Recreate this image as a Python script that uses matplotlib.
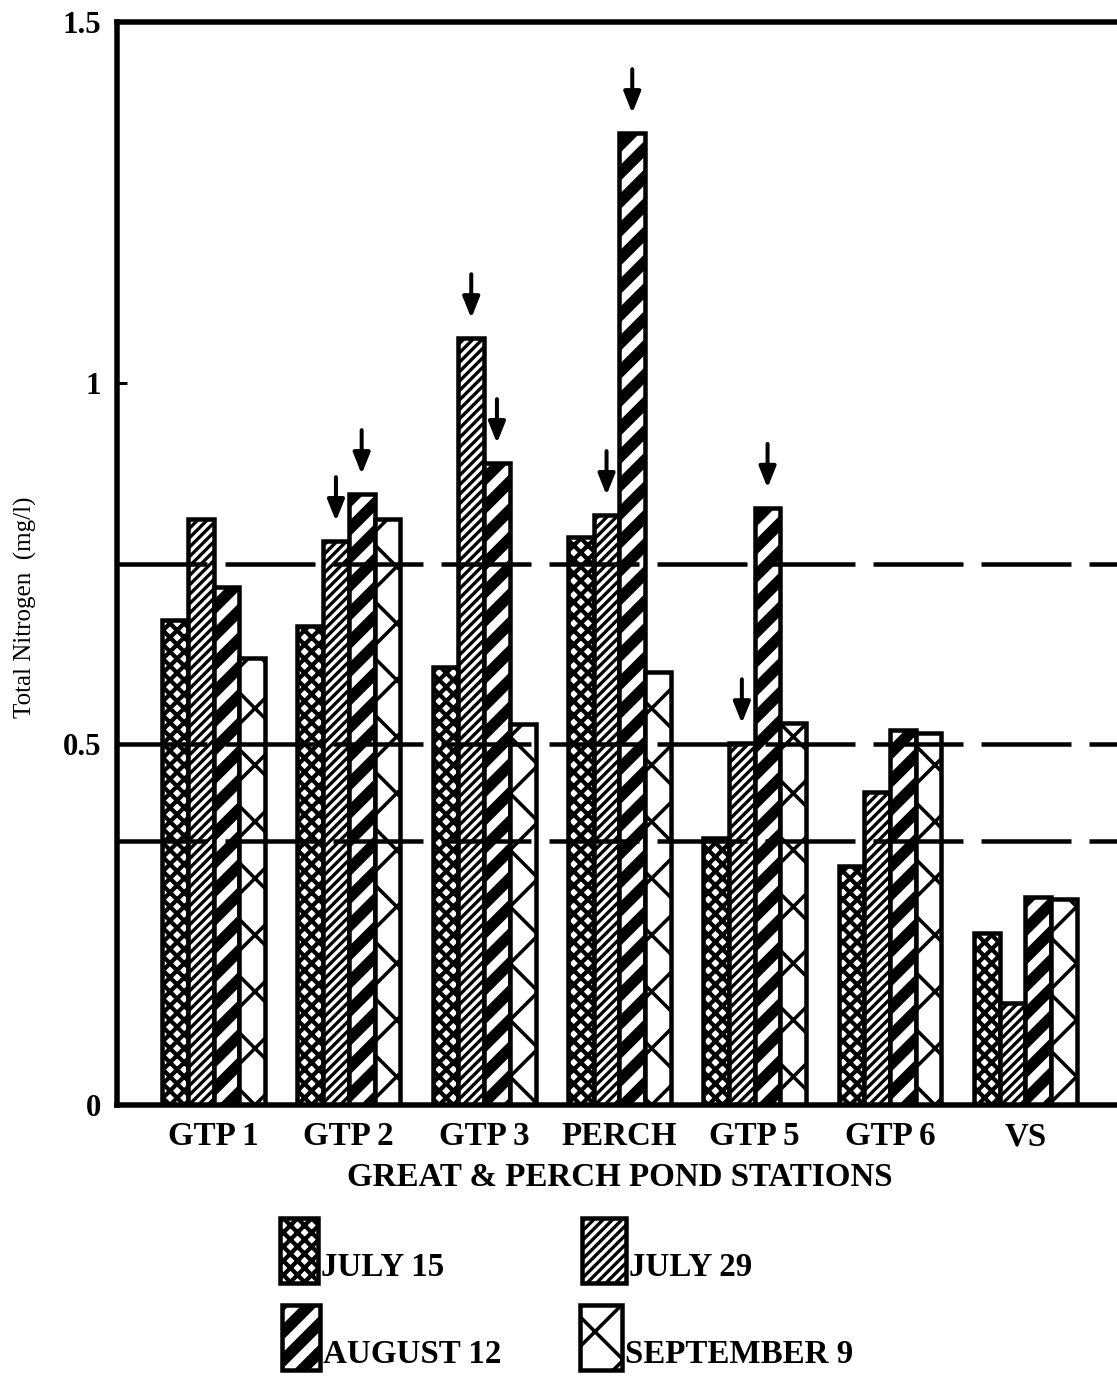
import matplotlib
matplotlib.use('Agg')
import matplotlib.pyplot as plt
from matplotlib.patches import Rectangle
import numpy as np

DPI = 340
W, H = 1117, 1376

stations = ['GTP 1', 'GTP 2', 'GTP 3', 'PERCH', 'GTP 5', 'GTP 6', 'VS']
dates = ['JULY 15', 'JULY 29', 'AUGUST 12', 'SEPTEMBER 9']
july15 = [0.672, 0.663, 0.607, 0.787, 0.370, 0.331, 0.238]
july29 = [0.812, 0.781, 1.062, 0.817, 0.501, 0.434, 0.141]
aug12 = [0.717, 0.846, 0.889, 1.346, 0.827, 0.519, 0.288]
sep9 = [0.619, 0.812, 0.528, 0.600, 0.529, 0.515, 0.285]
ref_levels = [0.75, 0.5, 0.365]
# (station, date) pairs that get an arrow
arrows = [(1, 1), (1, 2), (2, 1), (2, 2), (3, 1), (3, 2), (4, 1), (4, 2)]

series = [july15, july29, aug12, sep9]
hatches = ['x' * 8, '/' * 12, '////', 'xx']
hatch_lw = [0.9, 0.7, 2.4, 0.75]


def px(v):
    # pixels -> points
    return v * 72.0 / DPI


plt.rcParams['font.family'] = ['Liberation Serif', 'DejaVu Serif']
plt.rcParams['lines.scale_dashes'] = False

fig = plt.figure(figsize=(W / DPI, H / DPI), dpi=DPI)
ax = fig.add_axes([117 / W, 1 - 1105 / H, (1150 - 117) / W, (1105 - 22) / H])

x = np.arange(len(stations))
bw = 0.19
offsets = (np.arange(4) - 1.5) * bw

for i, vals in enumerate(series):
    with plt.rc_context({'hatch.linewidth': hatch_lw[i], 'hatch.color': 'black'}):
        bars = ax.bar(x + offsets[i], vals, bw, color='white', edgecolor='black',
                      linewidth=px(4.5), hatch=hatches[i], zorder=2)
    for b in bars:
        if hasattr(b, 'set_hatch_linewidth'):
            b.set_hatch_linewidth(hatch_lw[i])

for lv in ref_levels:
    ax.axhline(lv, color='black', lw=px(4.5), dashes=(px(90), px(18)), zorder=3)

for si, di in arrows:
    ax.annotate('', xy=(x[si] + offsets[di], series[di][si]), xycoords='data',
                xytext=(0, px(64)), textcoords='offset points',
                arrowprops=dict(arrowstyle='-|>,head_length=0.75,head_width=0.3',
                                mutation_scale=5, color='black', lw=px(4),
                                shrinkA=0, shrinkB=px(20)))

ax.set_xlim((117 - 213.5) / 135.3, (1150 - 213.5) / 135.3)
ax.set_ylim(0, 1.5)
ax.set_yticks([0, 0.5, 1, 1.5])
ax.set_yticklabels(['0', '0.5', '1', '1.5'], fontsize=6.5, fontweight='bold')
ax.set_xticks(x)
ax.set_xticklabels(stations, fontsize=7, fontweight='bold')
ax.tick_params(axis='x', length=0, pad=px(16))
ax.tick_params(axis='y', direction='in', length=px(10), width=px(3), pad=px(16))

for side in ['left', 'top', 'bottom']:
    ax.spines[side].set_linewidth(px(5.5))
ax.spines['right'].set_visible(False)

fig.text(620 / W, 1 - 1178 / H, 'GREAT & PERCH POND STATIONS', fontsize=7,
         fontweight='bold', ha='center', va='center')
fig.text(25 / W, 1 - 607 / H, 'Total Nitrogen  (mg/l)', fontsize=5.3,
         rotation=90, ha='center', va='center')

# legend drawn by hand: box with label at its lower right
legend_pos = [(280, 1218, 38, 65), (582, 1218, 44, 65),
              (282, 1305, 38, 65), (580, 1305, 42, 65)]
for i, (lx, ly, lw_, lh) in enumerate(legend_pos):
    with plt.rc_context({'hatch.linewidth': hatch_lw[i], 'hatch.color': 'black'}):
        r = Rectangle((lx / W, 1 - (ly + lh) / H), lw_ / W, lh / H,
                      transform=fig.transFigure, facecolor='white',
                      edgecolor='black', linewidth=px(4.5), hatch=hatches[i])
    if hasattr(r, 'set_hatch_linewidth'):
        r.set_hatch_linewidth(hatch_lw[i])
    fig.add_artist(r)
    fig.text((lx + lw_ + 3) / W, 1 - (ly + lh) / H, dates[i], fontsize=7,
             fontweight='bold', ha='left', va='bottom')

fig.savefig('out.png', dpi=DPI)
